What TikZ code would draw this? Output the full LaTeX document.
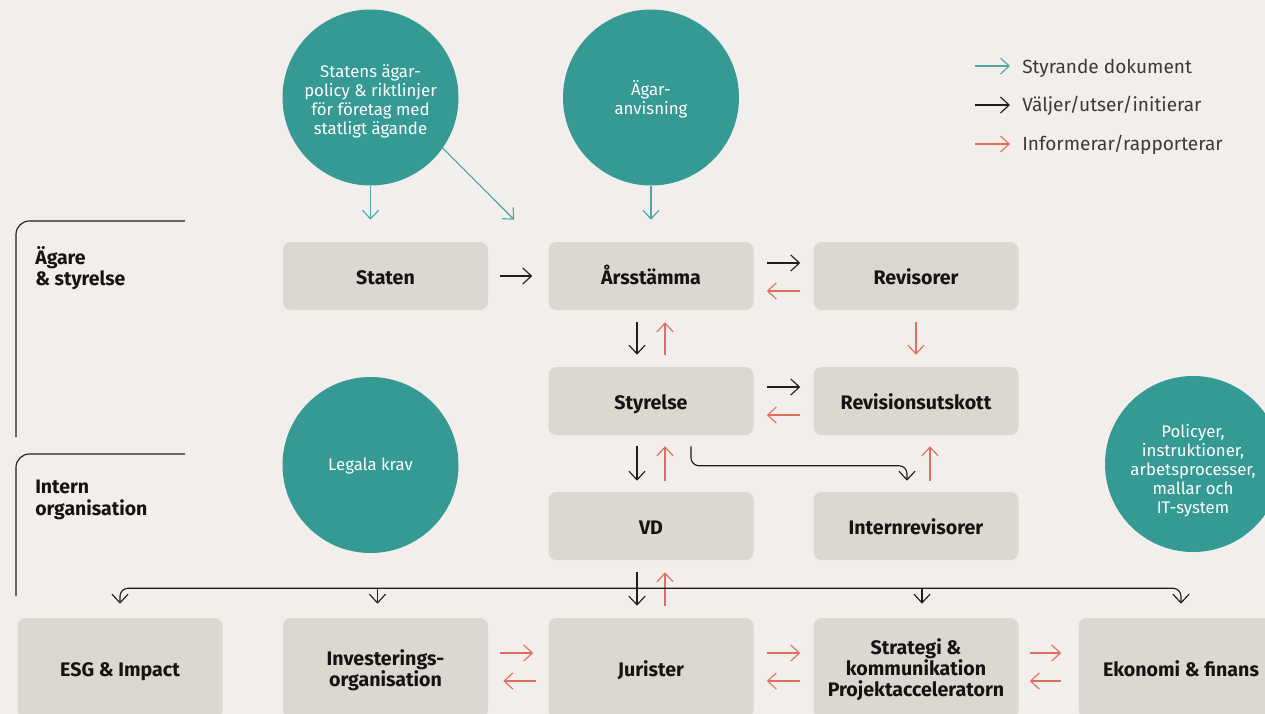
\documentclass[tikz,border=0pt]{standalone}
\usepackage{fontspec}
\setmainfont{Fira Sans}
\usetikzlibrary{arrows.meta,calc}
\definecolor{bg}{RGB}{241,238,235}
\definecolor{boxc}{RGB}{219,215,209}
\definecolor{tealc}{RGB}{53,153,148}
\definecolor{tealarrow}{RGB}{75,168,163}
\definecolor{redarrow}{RGB}{222,110,94}
\definecolor{blkarrow}{RGB}{30,30,30}
\definecolor{txt}{RGB}{20,20,20}
\definecolor{legtxt}{RGB}{60,58,50}
\tikzset{
  box/.style={fill=boxc, rounded corners=6pt, minimum width=153.75pt, minimum height=51pt,
    inner sep=0pt, align=center, text=txt, font=\fontsize{14.7}{16}\selectfont\bfseries},
  one/.style={text height=12pt, text depth=0pt},
  bbox/.style={box, minimum height=75pt},
  circ/.style={circle, fill=tealc, minimum size=132pt, inner sep=0pt},
  ctext/.style={align=center, inner sep=0pt, text=white, font=\fontsize{12.6}{14.3}\selectfont},
  arr/.style={line width=0.85pt, -{Straight Barb[length=6.5pt,width=12pt]}},
  karr/.style={arr, draw=blkarrow},
  rarr/.style={arr, draw=redarrow},
  tarr/.style={arr, draw=tealarrow},
  grp/.style={anchor=west, align=left, inner sep=0pt, text=txt, font=\fontsize{14.6}{16}\selectfont\bfseries},
  legend/.style={anchor=west, inner sep=0pt, text=legtxt, font=\fontsize{14.3}{16}\selectfont},
  brace/.style={line width=0.85pt, draw=blkarrow, rounded corners=10pt}
}
\begin{document}
\begin{tikzpicture}[x=0.75pt,y=-0.75pt]
\useasboundingbox (0,0) rectangle (1265,714);
\fill[bg] (0,0) rectangle (1265,714);

% circles
\node[circ] (c1) at (370.5,97.5) {};
\node[circ] (c2) at (651,97.5) {};
\node[circ] (c3) at (370.5,465) {};
\node[circ] (c4) at (1193,464) {};
\node[ctext] (t1) at ($(c1)+(0,4)$) {Statens ägar-\\policy \& riktlinjer\\för företag med\\statligt ägande};
\node[ctext] (t2) at ($(c2)+(0,2)$) {Ägar-\\anvisning};
\node[ctext] (t3) at ($(c3)+(0,1)$) {Legala krav};
\node[ctext] (t4) at ($(c4)+(0,7)$) {Policyer,\\instruktioner,\\arbetsprocesser,\\mallar och\\IT-system};

% boxes
\node[box,one] (staten) at (385.5,276) {Staten};
\node[box,one] (stamma) at (651,276) {Årsstämma};
\node[box,one] (revisorer) at (916,276) {Revisorer};
\node[box,one] (styrelse) at (651,401) {Styrelse};
\node[box,one] (revutskott) at (916,401) {Revisionsutskott};
\node[box,one] (vd) at (651,526) {VD};
\node[box,one] (intrev) at (916,526) {Internrevisorer};

\node[bbox,one] (esg) at (120,668) {ESG \& Impact};
\node[bbox] (invest) at (385.5,668) {\rule{0pt}{15pt}Investerings-\\organisation};
\node[bbox,one] (jurister) at (651,668) {Jurister};
\node[bbox] (strategi) at (916,668) {\rule{0pt}{14.5pt}Strategi \&\\kommunikation\\Projektacceleratorn};
\node[bbox,one] (ekonomi) at (1181,668) {Ekonomi \& finans};

% group brackets
\draw[brace] (16,437) |- (185,221);
\draw[brace] (16,596) |- (185,454);
\node[grp] (g1) at (35,268) {Ägare\\\& styrelse};
\node[grp] (g2) at (35,500) {Intern\\organisation};

% legend
\node[legend] (lt1) at (1022,68) {Styrande dokument};
\node[legend] (lt2) at (1022,106) {Väljer/utser/initierar};
\node[legend] (lt3) at (1022,145) {Informerar/rapporterar};
\draw[tarr] ($(lt1.west)+(-47,-2)$) -- ($(lt1.west)+(-12,-2)$);
\draw[karr] ($(lt2.west)+(-47,-1)$) -- ($(lt2.west)+(-12,-1)$);
\draw[rarr] ($(lt3.west)+(-47,-1)$) -- ($(lt3.west)+(-12,-1)$);

% styrande dokument arrows
\coordinate (d1) at ($(stamma.north west)+(-34,-22)$);
\draw[tarr] (c1.south) -- ($(c1.south |- staten.north)+(0,-22)$);
\draw[tarr] (c1.-35) -- (d1);
\draw[tarr] (c2.south) -- ($(stamma.north)+(0,-22)$);

% row 1
\draw[karr, shorten <=9pt, shorten >=12pt] (staten.east) -- (stamma.west);
\draw[karr, shorten <=9.75pt, shorten >=9.75pt] ($(stamma.east)+(0,-13)$) -- ($(revisorer.west)+(0,-13)$);
\draw[rarr, shorten <=9.75pt, shorten >=9.75pt] ($(revisorer.west)+(0,15)$) -- ($(stamma.east)+(0,15)$);

% row 1 -> row 2
\draw[karr, shorten <=9pt, shorten >=9pt] ($(stamma.south)+(-14,0)$) -- ($(styrelse.north)+(-14,0)$);
\draw[rarr, shorten <=9pt, shorten >=9pt] ($(styrelse.north)+(14,0)$) -- ($(stamma.south)+(14,0)$);
\draw[rarr, shorten <=9pt, shorten >=9pt] (revisorer.south) -- (revutskott.north);

% row 2
\draw[karr, shorten <=9.75pt, shorten >=9.75pt] ($(styrelse.east)+(0,-14)$) -- ($(revutskott.west)+(0,-14)$);
\draw[rarr, shorten <=9.75pt, shorten >=9.75pt] ($(revutskott.west)+(0,14)$) -- ($(styrelse.east)+(0,14)$);

% row 2 -> row 3
\draw[karr, shorten <=8.25pt, shorten >=8.25pt] ($(styrelse.south)+(-14,0)$) -- ($(vd.north)+(-14,0)$);
\draw[rarr, shorten <=8.25pt, shorten >=8.25pt] ($(vd.north)+(14,0)$) -- ($(styrelse.south)+(14,0)$);
\draw[rarr, shorten <=8.25pt, shorten >=8.25pt] ($(intrev.north)+(14,0)$) -- ($(revutskott.south)+(14,0)$);
\draw[karr, rounded corners=6pt] ($(styrelse.south)+(40,11)$) |- ($(intrev.north)+(-9,-26)$) -- ($(intrev.north)+(-9,-11)$);

% row 3 -> row 4
\draw[karr, shorten <=9pt, shorten >=9pt] ($(vd.south)+(-14,0)$) -- ($(jurister.north)+(-14,0)$);
\draw[rarr, shorten <=9pt, shorten >=9pt] ($(jurister.north)+(14,0)$) -- ($(vd.south)+(14,0)$);
\coordinate (bus) at ($(vd.south)+(-14,28)$);
\draw[karr, rounded corners=6pt] (bus) -| ($(esg.north)+(0,-14)$);
\draw[karr, rounded corners=6pt] (bus) -| ($(ekonomi.north)+(0,-14)$);
\draw[karr] ($(bus -| invest.north)+(-8,0)$) -- ($(invest.north)+(-8,-14)$);
\draw[karr] ($(bus -| strategi.north)+(6,0)$) -- ($(strategi.north)+(6,-14)$);

% row 4
\draw[rarr, shorten <=9pt, shorten >=11.25pt] ($(invest.east)+(0,-15)$) -- ($(jurister.west)+(0,-15)$);
\draw[rarr, shorten <=9pt, shorten >=11.25pt] ($(jurister.west)+(0,13)$) -- ($(invest.east)+(0,13)$);
\draw[rarr, shorten <=9.75pt, shorten >=9.75pt] ($(jurister.east)+(0,-15)$) -- ($(strategi.west)+(0,-15)$);
\draw[rarr, shorten <=9.75pt, shorten >=9.75pt] ($(strategi.west)+(0,13)$) -- ($(jurister.east)+(0,13)$);
\draw[rarr, shorten <=8.25pt, shorten >=12.75pt] ($(strategi.east)+(0,-15)$) -- ($(ekonomi.west)+(0,-15)$);
\draw[rarr, shorten <=12.75pt, shorten >=8.25pt] ($(ekonomi.west)+(0,13)$) -- ($(strategi.east)+(0,13)$);
\end{tikzpicture}
\end{document}
